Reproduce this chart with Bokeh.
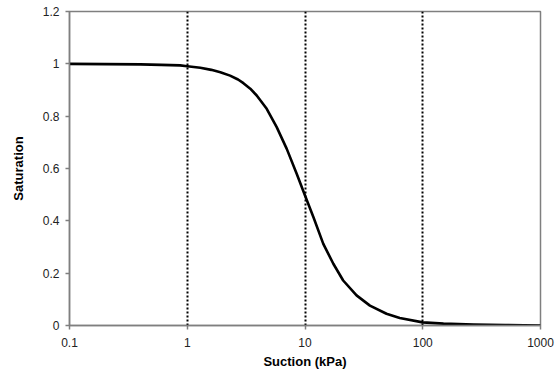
from bokeh.plotting import figure
from bokeh.models import FixedTicker
from bokeh.embed import file_html
from bokeh.resources import INLINE

# Soil-water characteristic curve: degree of saturation vs. matric suction
suction_kpa = [0.1, 0.2, 0.4, 0.6, 0.87, 1.0, 1.29, 1.6, 1.91, 2.31, 2.7,
               3.0, 3.43, 3.89, 4.73, 5.75, 7.0, 8.5, 10.0, 11.8, 14.3, 17.4,
               21.1, 27.4, 35.6, 49.2, 63.8, 100.0, 150.0, 270.0, 500.0,
               1000.0]
saturation = [1.0, 0.999, 0.998, 0.996, 0.994, 0.991, 0.985, 0.977, 0.968,
              0.955, 0.940, 0.926, 0.905, 0.879, 0.828, 0.758, 0.675, 0.580,
              0.497, 0.414, 0.312, 0.236, 0.172, 0.115, 0.076, 0.045, 0.029,
              0.012, 0.007, 0.004, 0.002, 0.0]

x_ticks = [0.1, 1, 10, 100, 1000]
x_tick_labels = ["0.1", "1", "10", "100", "1000"]
y_ticks = [0, 0.2, 0.4, 0.6, 0.8, 1.0, 1.2]
y_tick_labels = ["0", "0.2", "0.4", "0.6", "0.8", "1", "1.2"]
grid_positions = [1, 10, 100, 1000]

FONT = "Liberation Sans"
AXIS_GREY = "#7f7f7f"

p = figure(width=556, height=375, x_axis_type="log",
           x_range=(0.1, 1000), y_range=(0, 1.2),
           output_backend="svg", toolbar_location=None,
           min_border_left=69, min_border_right=16,
           min_border_top=11, min_border_bottom=50)

p.background_fill_color = "white"
p.border_fill_color = "white"
p.outline_line_color = AXIS_GREY
p.outline_line_width = 1.5

# vertical dotted grid at each decade
p.ygrid.grid_line_color = None
p.xgrid.ticker = FixedTicker(ticks=grid_positions)
p.xgrid.grid_line_color = "black"
p.xgrid.grid_line_dash = "2 2"
p.xgrid.grid_line_width = 2

p.line(suction_kpa, saturation, line_color="black", line_width=2.6,
       line_join="round")

for ax in (p.xaxis[0], p.yaxis[0]):
    ax.axis_line_color = AXIS_GREY
    ax.axis_line_width = 1.5
    ax.major_tick_line_color = AXIS_GREY
    ax.major_tick_line_width = 1.5
    ax.major_tick_in = 0
    ax.major_tick_out = 4
    ax.minor_tick_line_color = None
    ax.major_label_text_font = FONT
    ax.major_label_text_font_size = "12px"
    ax.major_label_text_color = "#222222"
    ax.axis_label_text_font = FONT
    ax.axis_label_text_font_size = "13px"
    ax.axis_label_text_font_style = "bold"
    ax.axis_label_text_color = "black"

p.xaxis.ticker = FixedTicker(ticks=x_ticks)
p.xaxis.major_label_overrides = dict(zip(x_ticks, x_tick_labels))
p.xaxis.axis_label = "Suction (kPa)"
p.xaxis.major_label_standoff = 8
p.xaxis.axis_label_standoff = 4

p.yaxis.ticker = FixedTicker(ticks=y_ticks)
p.yaxis.major_label_overrides = dict(zip(y_ticks, y_tick_labels))
p.yaxis.axis_label = "Saturation"
p.yaxis.major_label_standoff = 6
p.yaxis.axis_label_standoff = 14

open("out.html", "w").write(file_html(p, INLINE))
